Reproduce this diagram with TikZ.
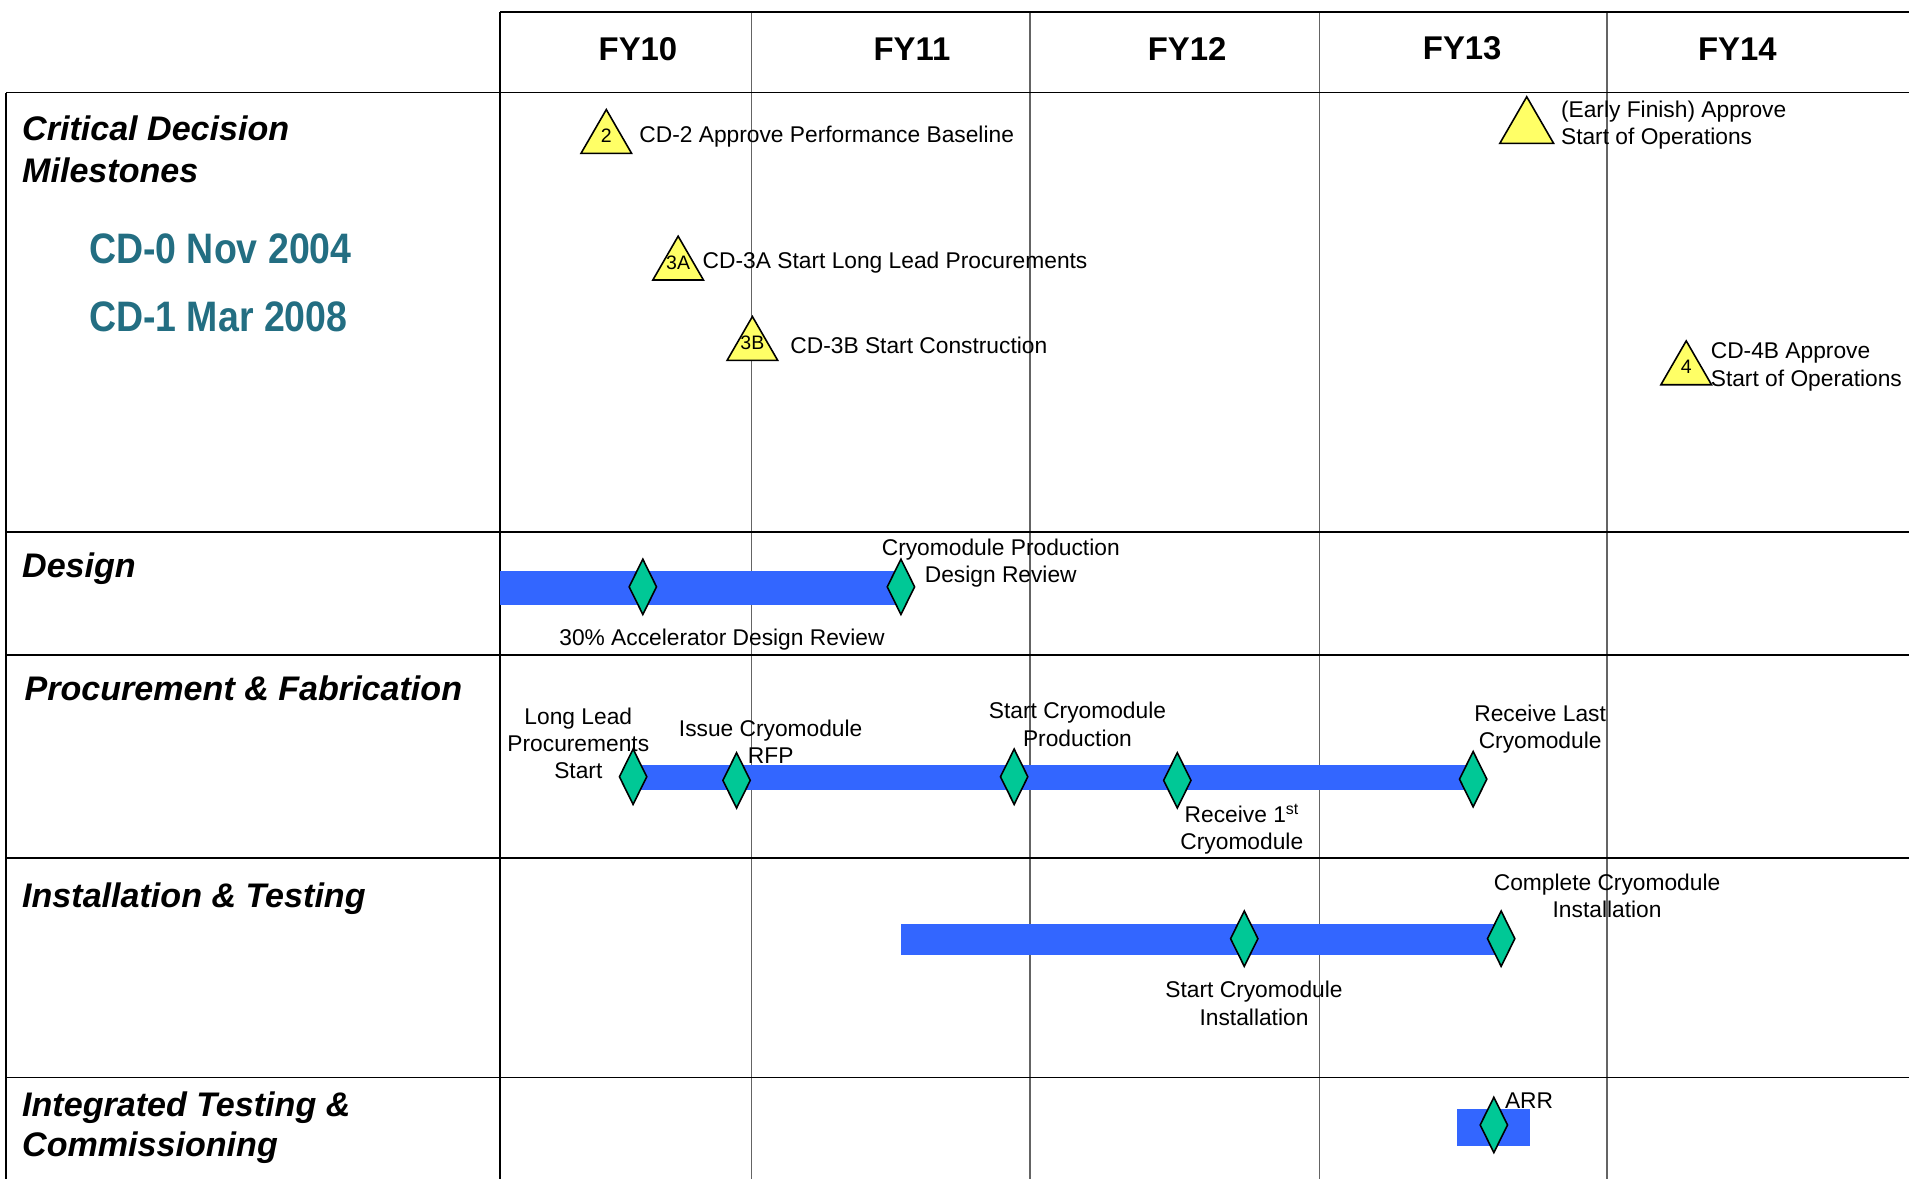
\documentclass[tikz,border=0pt]{standalone}
\usepackage{fontspec}
\setmainfont{Liberation Sans}
\newfontfamily\narrowsans[FakeStretch=0.88]{Liberation Sans}
\usetikzlibrary{shapes.geometric}
\definecolor{barblue}{RGB}{51,102,255}
\definecolor{msgreen}{RGB}{0,200,150}
\definecolor{triyellow}{RGB}{255,255,102}
\definecolor{cdteal}{RGB}{35,110,130}
\definecolor{yeargray}{RGB}{100,100,100}
\newcommand{\trilbl}[1]{\smash{\makebox[0pt]{\raisebox{-3pt}{#1}}}}
\begin{document}
\begin{tikzpicture}[x=1pt,y=-1pt,
  frame/.style={line width=1.6pt, black},
  yearline/.style={line width=1.1pt, yeargray},
  rowhead/.style={font=\fontsize{28}{35}\selectfont\bfseries\itshape, anchor=west, align=left, inner sep=0},
  fyhead/.style={font=\fontsize{27}{32}\selectfont\bfseries, inner sep=0},
  cdtext/.style={font=\narrowsans\fontsize{35}{40}\selectfont\bfseries, text=cdteal, anchor=west, inner sep=0},
  lbl/.style={font=\fontsize{18.7}{22.5}\selectfont, inner sep=0, align=center, yshift=-2pt},
  lbll/.style={lbl, anchor=west, align=left},
  cdtri/.style={regular polygon, regular polygon sides=3, draw=black, line width=1.3pt, fill=triyellow, minimum size=48pt, inner sep=0, font=\fontsize{16}{16}\selectfont},
  msdia/.style={diamond, draw=black, line width=1.3pt, fill=msgreen, minimum width=23pt, minimum height=46pt, inner sep=0},
  bar/.style={fill=barblue}
]
\useasboundingbox (0,0) rectangle (1568,968);
% frame and grid
\draw[yearline] (617,10) -- (617,968);
\draw[yearline] (846,10) -- (846,968);
\draw[yearline] (1084,10) -- (1084,968);
\draw[yearline] (1320,10) -- (1320,968);
\draw[frame] (411,10) -- (1568,10);
\draw[frame] (5,76) -- (1568,76);
\draw[frame] (5,76) -- (5,968);
\draw[frame] (411,10) -- (411,968);
\draw[frame] (5,437) -- (1568,437);
\draw[frame] (5,538) -- (1568,538);
\draw[frame] (5,705) -- (1568,705);
\draw[frame] (5,885) -- (1568,885);
% year headers
\node[fyhead] (fy10) at (524,40) {FY10};
\node[fyhead] (fy11) at (749,40) {FY11};
\node[fyhead] (fy12) at (975,40) {FY12};
\node[fyhead] (fy13) at (1201,40) {FY13};
\node[fyhead] (fy14) at (1427,40) {FY14};
% row headers
\node[rowhead] (hcd) at (18,122.5) {Critical Decision\\Milestones};
\node[cdtext] (cd0) at (73,204) {CD-0 Nov 2004};
\node[cdtext] (cd1) at (73,260) {CD-1 Mar 2008};
\node[rowhead] (hdes) at (18,467) {Design};
\node[rowhead] (hpro) at (20,565) {Procurement \& Fabrication};
\node[rowhead] (hins) at (18,738) {Installation \& Testing};
\node[rowhead, font=\fontsize{28}{33}\selectfont\bfseries\itshape] (hint) at (18,926.5) {Integrated Testing \&\\Commissioning};
% critical decision milestones
\node[cdtri] (t2) at (498,114) {\trilbl{2}};
\node[lbll] (t2l) at (525,110) {CD-2 Approve Performance Baseline};
\node[cdtri] (t3a) at (557,218) {\trilbl{3A}};
\node[lbll] (t3al) at (577,214) {CD-3A Start Long Lead Procurements};
\node[cdtri] (t3b) at (618,284) {\trilbl{3B}};
\node[lbll] (t3bl) at (649,282) {CD-3B Start Construction};
\node[cdtri, minimum size=51pt] (tef) at (1254,105) {};
\node[lbll] (tefl) at (1282,101) {(Early Finish) Approve\\Start of Operations};
\node[cdtri] (t4) at (1385,304) {\trilbl{4}};
\node[lbll] (t4l) at (1405,299.5) {CD-4B Approve\\Start of Operations};
% design
\fill[bar] (411,469) rectangle (740,497);
\node[msdia] (d1) at (528,482) {};
\node[msdia] (d2) at (740,482) {};
\node[lbl] (d2l) at (822,460.5) {Cryomodule Production\\Design Review};
\node[lbl] (d1l) at (593,523) {30\% Accelerator Design Review};
% procurement & fabrication
\fill[bar] (520,628) rectangle (1210,649);
\node[msdia] (p1) at (520,638) {};
\node[msdia] (p2) at (605,641) {};
\node[msdia] (p3) at (833,638) {};
\node[msdia] (p4) at (967,641) {};
\node[msdia] (p5) at (1210,640) {};
\node[lbl] (p1l) at (475,608.5) {Long Lead\\Procurements\\Start};
\node[lbl] (p2l) at (633,607) {Issue Cryomodule\\RFP};
\node[lbl] (p3l) at (885,593) {Start Cryomodule\\Production};
\node[lbl] (p4l) at (1020,679) {Receive 1\textsuperscript{st}\\Cryomodule};
\node[lbl] (p5l) at (1265,597) {Receive Last\\Cryomodule};
% installation & testing
\fill[bar] (740,759) rectangle (1233,784);
\node[msdia] (i1) at (1022,771) {};
\node[msdia] (i2) at (1233,771) {};
\node[lbl] (i2l) at (1320,734) {Complete Cryomodule\\Installation};
\node[lbl] (i1l) at (1030,822) {Start Cryomodule\\Installation};
% integrated testing & commissioning
\fill[bar] (1197,911) rectangle (1257,941);
\node[msdia] (c1) at (1227,924) {};
\node[lbll] (c1l) at (1236,902) {ARR};
\end{tikzpicture}
\end{document}
